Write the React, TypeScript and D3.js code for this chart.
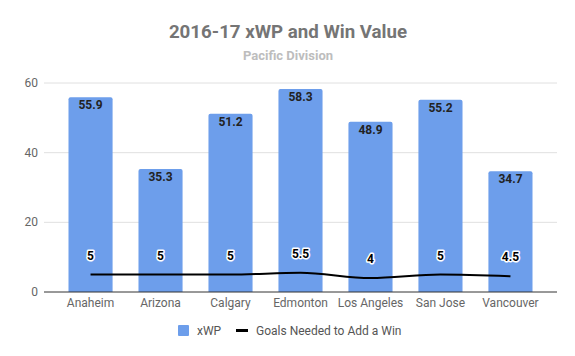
import React from "react";
import * as d3 from "d3";

const teams = ["Anaheim", "Arizona", "Calgary", "Edmonton", "Los Angeles", "San Jose", "Vancouver"];
const xwp = [55.9, 35.3, 51.2, 58.3, 48.9, 55.2, 34.7];
const goalsNeeded = [5, 5, 5, 5.5, 4, 5, 4.5];
const yTicks = [0, 20, 40, 60];

const W = 575, H = 356;
const left = 44, right = 557, top = 83, bottom = 292;

export default function App() {
  const x = d3.scaleBand<string>().domain(teams).range([left, right]).paddingInner(0.37).paddingOuter(0.35);
  const y = d3.scaleLinear().domain([0, 60]).range([bottom, top]);
  const bw = x.bandwidth();
  const cx = (t: string) => (x(t) as number) + bw / 2;
  const line = d3.line<number>().x((_, i) => cx(teams[i])).y((d) => y(d)).curve(d3.curveMonotoneX);
  const r = 2;
  const barPath = (t: string, v: number) => {
    const x0 = x(t) as number, x1 = x0 + bw, y0 = y(v), yb = y(0);
    return `M${x0},${yb}V${y0 + r}Q${x0},${y0} ${x0 + r},${y0}H${x1 - r}Q${x1},${y0} ${x1},${y0 + r}V${yb}Z`;
  };
  const font = "Roboto, sans-serif";
  return (
    <svg width={W} height={H} style={{ display: "block", position: "absolute", left: 0, top: 0 }} fontFamily={font}>
      <rect width={W} height={H} fill="#fff" />
      <text x={288} y={38} textAnchor="middle" fontSize={18.7} fontWeight="bold" fill="#757575">2016-17 xWP and Win Value</text>
      <text x={288} y={60} textAnchor="middle" fontSize={13} fontWeight="bold" fill="#bdbdbd">Pacific Division</text>
      {yTicks.map((t) => (
        <g key={t}>
          {t !== 0 && <line x1={left} x2={right} y1={y(t)} y2={y(t)} stroke="#e0e0e0" strokeWidth={1} />}
          <text x={38} y={y(t) + 4} textAnchor="end" fontSize={12} fill="#666">{t}</text>
        </g>
      ))}
      {teams.map((t, i) => (
        <path key={t} d={barPath(t, xwp[i])} fill="#6d9eeb" />
      ))}
      <line x1={left} x2={right} y1={y(0)} y2={y(0)} stroke="#333" strokeWidth={1} />
      {teams.map((t, i) => (
        <text key={t} x={cx(t)} y={y(xwp[i]) + 12} textAnchor="middle" fontSize={12} fontWeight="bold" fill="#222">{xwp[i]}</text>
      ))}
      <path d={line(goalsNeeded) || ""} fill="none" stroke="#000" strokeWidth={2} />
      {teams.map((t, i) => (
        <text key={t} x={cx(t)} y={y(goalsNeeded[i]) - 15} textAnchor="middle" fontSize={12} fontWeight="bold" fill="#000" stroke="#fff" strokeWidth={3} paintOrder="stroke" strokeLinejoin="round">{goalsNeeded[i]}</text>
      ))}
      {teams.map((t) => (
        <text key={t} x={cx(t)} y={307} textAnchor="middle" fontSize={12} fill="#666">{t}</text>
      ))}
      <rect x={178} y={325} width={11} height={11} rx={1} fill="#6d9eeb" />
      <text x={197} y={335} fontSize={12} fill="#555">xWP</text>
      <line x1={236} x2={248} y1={330.5} y2={330.5} stroke="#000" strokeWidth={3} />
      <text x={256} y={335} fontSize={12} fill="#555">Goals Needed to Add a Win</text>
    </svg>
  );
}
